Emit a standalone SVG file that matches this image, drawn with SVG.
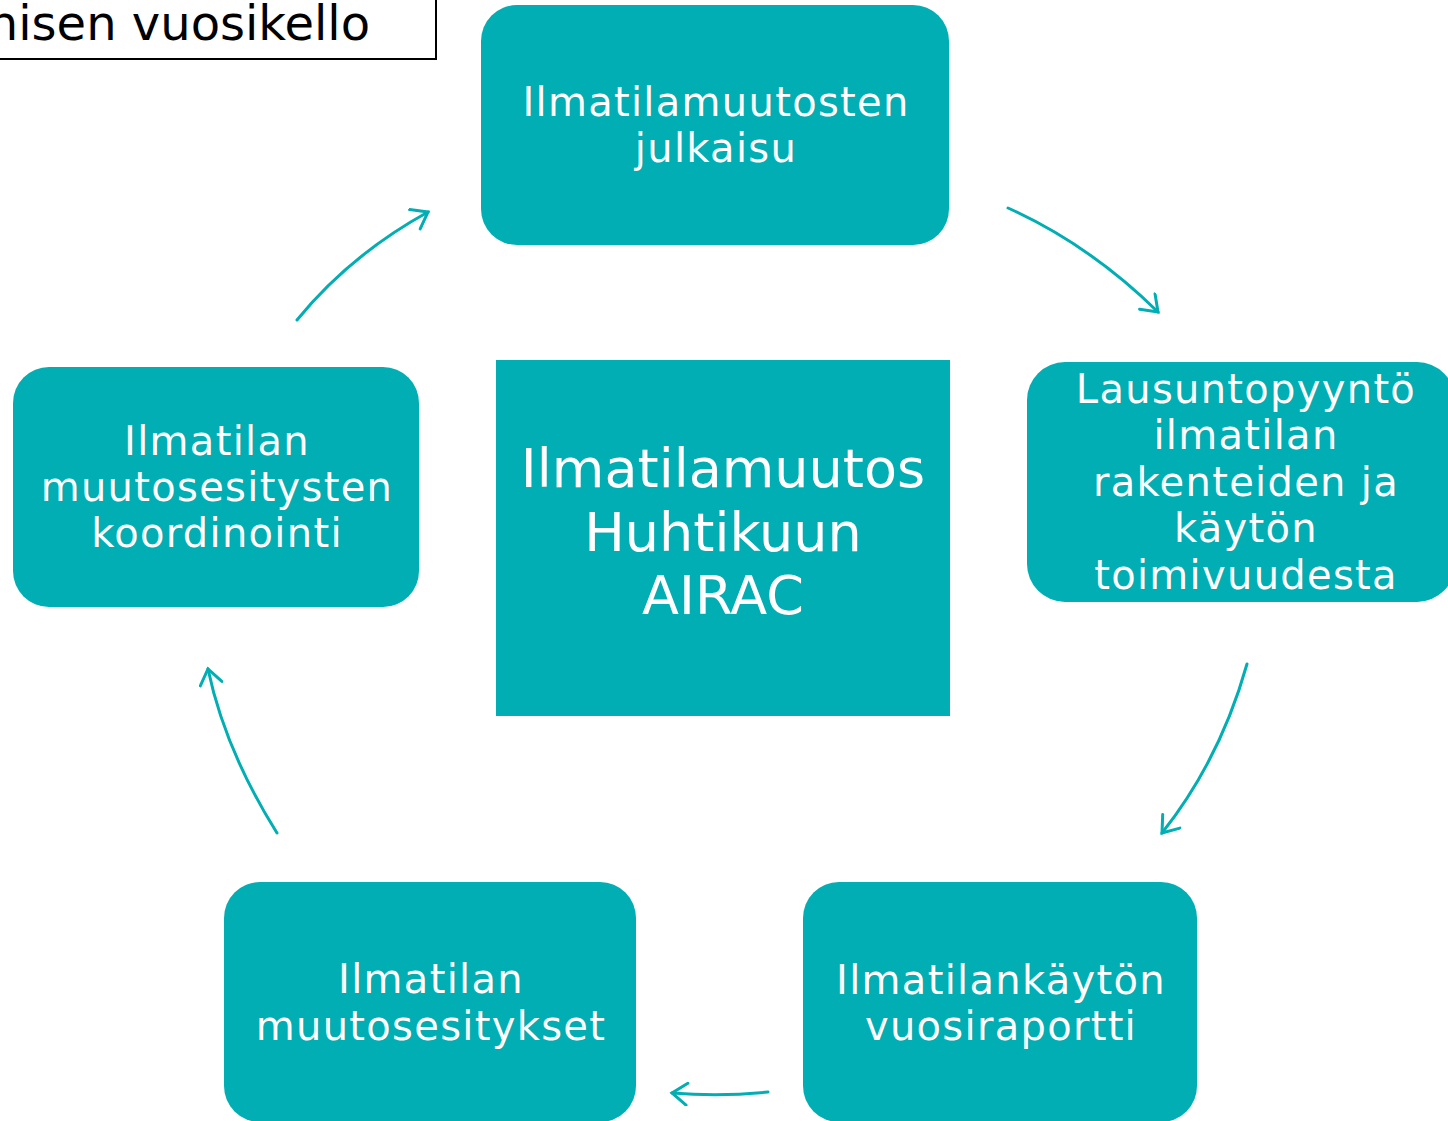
<svg xmlns="http://www.w3.org/2000/svg" width="1448" height="1121" viewBox="0 0 1448 1121">
<style>
.box{fill:#00AEB3;}
.t{font-family:"DejaVu Sans","Verdana",sans-serif;font-size:40px;letter-spacing:1.3px;fill:#ffffff;text-anchor:middle;}
.big{font-size:54px;letter-spacing:0;}
.conn{fill:none;stroke:#00AEB3;stroke-width:3;stroke-linecap:round;}
</style>
<defs>
<marker id="ah" markerWidth="26" markerHeight="26" refX="20" refY="12" orient="auto" markerUnits="userSpaceOnUse">
<path d="M5,1 L20,12 L5,23" fill="none" stroke="#00AEB3" stroke-width="3" stroke-linecap="round"/>
</marker>
</defs>
<g id="title">
<rect x="-20" y="-20" width="456" height="79" fill="#ffffff" stroke="#000000" stroke-width="2"/>
<text x="370" y="40" font-family="DejaVu Sans, Verdana, sans-serif" font-size="48" fill="#000000" text-anchor="end">nisen vuosikello</text>
</g>
<g id="node-julkaisu">
<rect class="box" x="481" y="5" width="468" height="240" rx="36"/>
<text class="t" x="716" y="116">Ilmatilamuutosten</text>
<text class="t" x="716" y="162">julkaisu</text>
</g>
<g id="node-lausunto">
<rect class="box" x="1027" y="362" width="428" height="240" rx="38"/>
<text class="t" x="1246" y="403">Lausuntopyyntö</text>
<text class="t" x="1246" y="449">ilmatilan</text>
<text class="t" x="1246" y="496">rakenteiden ja</text>
<text class="t" x="1246" y="542">käytön</text>
<text class="t" x="1246" y="589">toimivuudesta</text>
</g>
<g id="node-vuosiraportti">
<rect class="box" x="803" y="882" width="394" height="240" rx="36"/>
<text class="t" x="1001" y="994">Ilmatilankäytön</text>
<text class="t" x="1001" y="1040">vuosiraportti</text>
</g>
<g id="node-muutosesitykset">
<rect class="box" x="224" y="882" width="412" height="240" rx="36"/>
<text class="t" x="431" y="993">Ilmatilan</text>
<text class="t" x="431" y="1040">muutosesitykset</text>
</g>
<g id="node-koordinointi">
<rect class="box" x="13" y="367" width="406" height="240" rx="36"/>
<text class="t" x="217" y="455">Ilmatilan</text>
<text class="t" x="217" y="501">muutosesitysten</text>
<text class="t" x="217" y="547">koordinointi</text>
</g>
<g id="node-center">
<rect class="box" x="496" y="360" width="454" height="356"/>
<text class="t big" x="723" y="487">Ilmatilamuutos</text>
<text class="t big" x="723" y="551">Huhtikuun</text>
<text class="t big" x="723" y="614">AIRAC</text>
</g>
<g id="connectors">
<path class="conn" d="M297,320 Q350,255 428,212" marker-end="url(#ah)"/>
<path class="conn" d="M1008,208 Q1090,245 1158,312" marker-end="url(#ah)"/>
<path class="conn" d="M1247,664 Q1220,760 1162,833" marker-end="url(#ah)"/>
<path class="conn" d="M768,1092 Q720,1097 672,1093" marker-end="url(#ah)"/>
<path class="conn" d="M277,833 Q225,750 208,669" marker-end="url(#ah)"/>
</g>
</svg>
